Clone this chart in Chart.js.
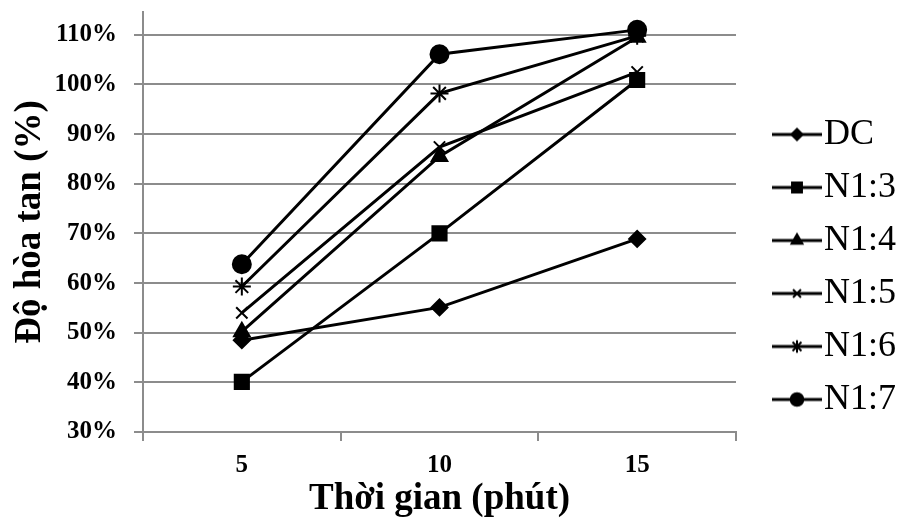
<!DOCTYPE html>
<html>
<head>
<meta charset="utf-8">
<script src="https://cdn.jsdelivr.net/npm/chart.js@4.4.1/dist/chart.umd.min.js"></script>
<style>
  html, body { margin: 0; padding: 0; background: #fff; }
  #wrap { width: 906px; height: 522px; }
</style>
</head>
<body>
<div id="wrap"><canvas id="chart" width="906" height="522"></canvas></div>
<script>
// time points (minutes)
const times = ['5', '10', '15'];

// dissolution (%) per formulation
const dc = [48.5, 55.1, 68.9];
const n13 = [40.1, 70.0, 100.9];
const n14 = [50.2, 85.5, 109.5];
const n15 = [54.0, 87.4, 102.5];
const n16 = [59.3, 98.2, 109.8];
const n17 = [63.8, 106.1, 111.0];

const seriesNames = ['DC', 'N1:3', 'N1:4', 'N1:5', 'N1:6', 'N1:7'];
const seriesData = [dc, n13, n14, n15, n16, n17];
const markers = ['rectRot', 'rect', 'triangle', 'crossRot', 'star', 'circle'];
const markerSize = [8, 10, 9, 8, 9, 9];

const yTicks = [30, 40, 50, 60, 70, 80, 90, 100, 110];

const serif = '"Liberation Serif", "Times New Roman", serif';
const legendFont = 36;
const iconGap = 35; // empty space left of each legend icon

// legend icon: short line with the marker in the middle
function legendIcon(style, r) {
  const c = document.createElement('canvas');
  c.width = 50 + iconGap;
  c.height = 20;
  const ctx = c.getContext('2d');
  ctx.strokeStyle = '#000';
  ctx.lineWidth = 3;
  ctx.beginPath();
  ctx.moveTo(iconGap, 10);
  ctx.lineTo(iconGap + 50, 10);
  ctx.stroke();
  ctx.fillStyle = '#000';
  ctx.lineWidth = 2;
  if (Chart.helpers && Chart.helpers.drawPoint) {
    Chart.helpers.drawPoint(ctx, { pointStyle: style, radius: r, borderWidth: 2 }, iconGap + 25, 10);
  } else {
    ctx.beginPath();
    ctx.arc(iconGap + 25, 10, r, 0, Math.PI * 2);
    ctx.fill();
  }
  return c;
}

const datasets = seriesNames.map((name, i) => ({
  label: name,
  data: seriesData[i],
  borderColor: '#000',
  backgroundColor: '#000',
  borderWidth: 3,
  pointStyle: markers[i],
  pointRadius: markerSize[i],
  pointHoverRadius: markerSize[i],
  pointBorderWidth: 2,
  pointBackgroundColor: '#000',
  pointBorderColor: '#000',
  tension: 0,
  fill: false
}));

const icons = seriesNames.map((n, i) => legendIcon(markers[i], markerSize[i] * 0.7));

new Chart(document.getElementById('chart'), {
  type: 'line',
  data: { labels: times, datasets: datasets },
  options: {
    responsive: false,
    animation: false,
    devicePixelRatio: 1,
    layout: { padding: { top: 12, right: 0, left: 0, bottom: 0 } },
    plugins: {
      tooltip: { enabled: false },
      legend: {
        position: 'right',
        labels: {
          usePointStyle: true,
          // text starts right after the visible icon
          pointStyleWidth: 89 - legendFont,
          padding: 17,
          color: '#000',
          font: { family: serif, size: legendFont },
          generateLabels: (chart) => chart.data.datasets.map((ds, i) => ({
            text: ds.label,
            pointStyle: icons[i],
            fillStyle: '#000',
            strokeStyle: '#000',
            lineWidth: 0,
            hidden: false,
            datasetIndex: i
          }))
        }
      }
    },
    scales: {
      x: {
        offset: true,
        afterFit: (scale) => { scale.height = 90; },
        grid: {
          offset: true,
          drawOnChartArea: false,
          drawTicks: true,
          tickLength: 9,
          color: '#8c8c8c',
          lineWidth: 2
        },
        border: { color: '#8c8c8c', width: 2 },
        ticks: {
          color: '#000',
          padding: 10,
          font: { family: serif, size: 25, weight: 'bold' }
        },
        title: {
          display: true,
          text: 'Thời gian (phút)',
          color: '#000',
          padding: { top: 0, bottom: 0 },
          font: { family: serif, size: 37, weight: 'bold' }
        }
      },
      y: {
        min: 30,
        max: 114.6,
        afterBuildTicks: (scale) => {
          scale.ticks = yTicks.map(v => ({ value: v }));
        },
        afterFit: (scale) => {
          scale.width = 143;
          scale.paddingTop = 0;
          scale.paddingBottom = 0;
        },
        grid: {
          color: '#8c8c8c',
          lineWidth: 2,
          tickLength: 9
        },
        border: { color: '#8c8c8c', width: 2 },
        ticks: {
          color: '#000',
          padding: 17,
          callback: (v) => v + '%',
          font: { family: serif, size: 25, weight: 'bold' }
        },
        title: {
          display: true,
          text: 'Độ hòa tan (%)',
          color: '#000',
          padding: { top: 8, bottom: 0 },
          font: { family: serif, size: 37, weight: 'bold' }
        }
      }
    }
  }
});
</script>
</body>
</html>
